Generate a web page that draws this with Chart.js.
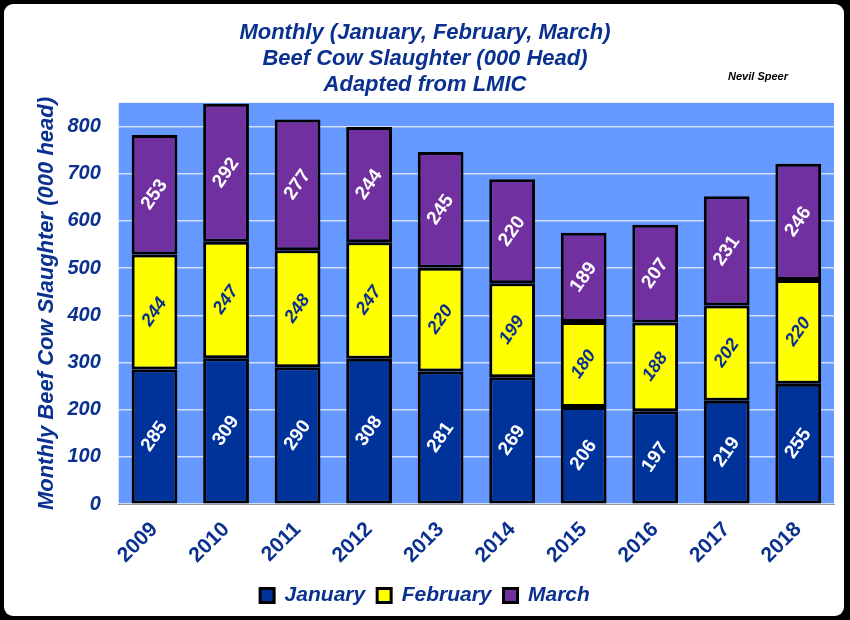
<!DOCTYPE html>
<html>
<head>
<meta charset="utf-8">
<script src="https://cdn.jsdelivr.net/npm/chart.js@4.4.1/dist/chart.umd.min.js"></script>
<style>
  html, body { margin: 0; padding: 0; background: #000; }
  #frame { position: relative; width: 850px; height: 620px; background: #000; overflow: hidden; }
  #paper { position: absolute; left: 4px; top: 4px; width: 840px; height: 612px; background: #fff; border-radius: 9px; }
  #chart { position: absolute; left: 0; top: 0; }
</style>
</head>
<body>
<div id="frame">
  <div id="paper"></div>
  <canvas id="chart" width="850" height="620"></canvas>
</div>
<script>
const years = ['2009', '2010', '2011', '2012', '2013', '2014', '2015', '2016', '2017', '2018'];
const january = [285, 309, 290, 308, 281, 269, 206, 197, 219, 255];
const february = [244, 247, 248, 247, 220, 199, 180, 188, 202, 220];
const march = [253, 292, 277, 244, 245, 220, 189, 207, 231, 246];
const titleLines = ['Monthly (January, February, March)', 'Beef Cow Slaughter (000 Head)', 'Adapted from LMIC'];
const yTitle = 'Monthly Beef Cow Slaughter (000 head)';

const NAVY = '#003399';
const YELLOW = '#FFFF00';
const PURPLE = '#7030A0';
const TEXT_BLUE = '#0a318f';
const FONT = "'Liberation Sans', Arial, sans-serif";

// plot area background
const plotBackground = {
    id: 'plotBackground',
    beforeDraw(chart) {
        const a = chart.chartArea;
        const ctx = chart.ctx;
        ctx.save();
        ctx.fillStyle = '#6699FF';
        ctx.fillRect(a.left, a.top, a.right - a.left, a.bottom - a.top);
        ctx.restore();
    }
};

// rotated value labels inside each segment
const barLabels = {
    id: 'barLabels',
    afterDatasetsDraw(chart) {
        const ctx = chart.ctx;
        chart.data.datasets.forEach((ds, i) => {
            const meta = chart.getDatasetMeta(i);
            meta.data.forEach((bar, j) => {
                const cx = bar.x;
                const cy = (bar.y + bar.base) / 2;
                ctx.save();
                ctx.translate(cx, cy);
                ctx.rotate(-55 * Math.PI / 180);
                ctx.font = ds.labelFont;
                ctx.fillStyle = ds.labelColor;
                ctx.textAlign = 'center';
                ctx.textBaseline = 'middle';
                ctx.fillText(ds.data[j], 0, 0);
                ctx.restore();
            });
        });
    }
};

// author note
const authorNote = {
    id: 'authorNote',
    afterDraw(chart) {
        const ctx = chart.ctx;
        ctx.save();
        ctx.font = 'italic bold 11px ' + FONT;
        ctx.fillStyle = '#000';
        ctx.textAlign = 'center';
        ctx.textBaseline = 'middle';
        ctx.fillText('Nevil Speer', 758, 77);
        ctx.restore();
    }
};

new Chart(document.getElementById('chart'), {
    type: 'bar',
    data: {
        labels: years,
        datasets: [
            { label: 'January', data: january, backgroundColor: NAVY, labelColor: '#fff', labelFont: 'bold 19px ' + FONT },
            { label: 'February', data: february, backgroundColor: YELLOW, labelColor: TEXT_BLUE, labelFont: 'italic bold 18px ' + FONT },
            { label: 'March', data: march, backgroundColor: PURPLE, labelColor: '#fff', labelFont: 'bold 19px ' + FONT }
        ].map(d => Object.assign(d, {
            borderColor: '#000',
            borderWidth: 3,
            borderSkipped: false,
            categoryPercentage: 1,
            barPercentage: 0.64
        }))
    },
    options: {
        responsive: false,
        animation: false,
        devicePixelRatio: 1,
        layout: { padding: { left: 16, right: 16, top: 6, bottom: 4 } },
        plugins: {
            title: {
                display: true,
                text: titleLines,
                color: TEXT_BLUE,
                font: { family: FONT, size: 22, weight: 'bold', style: 'italic', lineHeight: 1.18 },
                padding: { top: 14, bottom: 5 }
            },
            legend: {
                position: 'bottom',
                labels: {
                    color: TEXT_BLUE,
                    boxWidth: 14,
                    boxHeight: 14,
                    padding: 12,
                    font: { family: FONT, size: 21, weight: 'bold', style: 'italic' }
                }
            },
            tooltip: { enabled: false }
        },
        scales: {
            x: {
                stacked: true,
                grid: { display: false },
                border: { display: true, color: '#999', width: 1 },
                afterFit(scale) {
                    scale.paddingLeft = 0;
                    scale.paddingRight = 0;
                },
                ticks: {
                    color: TEXT_BLUE,
                    minRotation: 45,
                    maxRotation: 45,
                    padding: 5,
                    font: { family: FONT, size: 21, weight: 'bold' }
                }
            },
            y: {
                stacked: true,
                min: 0,
                max: 850,
                afterBuildTicks(axis) {
                    axis.ticks = axis.ticks.filter(t => t.value % 100 === 0);
                },
                // tick padding is counted twice in the width, take one back
                afterFit(scale) {
                    scale.width -= 17;
                },
                grid: { color: 'rgba(225,235,255,0.85)', lineWidth: 1.5, drawTicks: false },
                border: { display: false },
                ticks: {
                    stepSize: 100,
                    color: TEXT_BLUE,
                    padding: 18,
                    font: { family: FONT, size: 20, weight: 'bold', style: 'italic' }
                },
                title: {
                    display: true,
                    text: yTitle,
                    color: TEXT_BLUE,
                    padding: { top: 18, bottom: 6 },
                    font: { family: FONT, size: 22, weight: 'bold', style: 'italic' }
                }
            }
        }
    },
    plugins: [plotBackground, barLabels, authorNote]
});
</script>
</body>
</html>
